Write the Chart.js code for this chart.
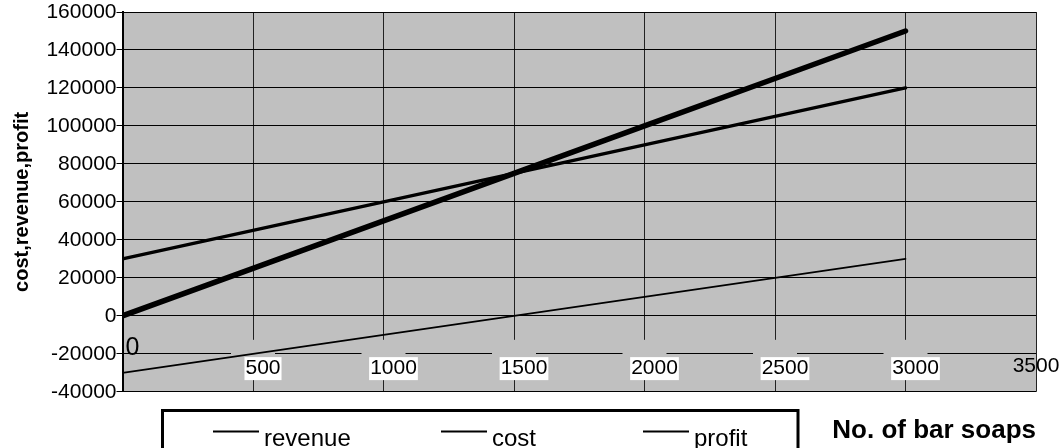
<!DOCTYPE html>
<html>
<head>
<meta charset="utf-8">
<title>Bar soaps: cost, revenue and profit</title>
<script src="https://cdn.jsdelivr.net/npm/chart.js@4.4.1/dist/chart.umd.min.js"></script>
<style>
  html, body { margin: 0; padding: 0; background: #fff; }
  #wrap { width: 1060px; height: 448px; position: relative; }
</style>
</head>
<body>
<div id="wrap"><canvas id="soapChart"></canvas></div>
<script>
// number of bar soaps and the three series at each count
const soaps = [0, 500, 1000, 1500, 2000, 2500, 3000];
const revenue = [0, 25000, 50000, 75000, 100000, 125000, 150000];
const cost = [30000, 45000, 60000, 75000, 90000, 105000, 120000];
const profit = [-30000, -20000, -10000, 0, 10000, 20000, 30000];

const seriesNames = ['revenue', 'cost', 'profit'];
const yTitle = 'cost,revenue,profit';
const xTitle = 'No. of bar soaps';

const xMin = 0, xMax = 3500, xStep = 500;
const yMin = -40000, yMax = 160000, yStep = 20000;
const xCross = -20000; // the horizontal axis sits on this value

const PLOT_GREY = '#c0c0c0';
Chart.defaults.font.family = '"Liberation Sans", Arial, sans-serif';
Chart.defaults.color = '#000';

const toPoints = ys => soaps.map((n, i) => ({ x: n, y: ys[i] }));
const tickValue = c => (c && c.tick ? c.tick.value : null);

// grey fill behind the plot
const plotBackground = {
    id: 'plotBackground',
    beforeDraw(chart, args, opts) {
        const { ctx, chartArea: a } = chart;
        ctx.save();
        ctx.fillStyle = opts.color;
        ctx.fillRect(a.left, a.top, a.right - a.left, a.bottom - a.top);
        ctx.restore();
    }
};

// boxed legend under the plot
const framedLegend = {
    id: 'framedLegend',
    afterDraw(chart, args, opts) {
        const ctx = chart.ctx;
        ctx.save();
        ctx.strokeStyle = '#000';
        ctx.lineWidth = 3;
        ctx.strokeRect(opts.left, opts.top, opts.right - opts.left, opts.bottom - opts.top);
        ctx.font = opts.font;
        ctx.fillStyle = '#000';
        ctx.textBaseline = 'alphabetic';
        ctx.lineWidth = 2;
        chart.data.datasets.forEach((ds, i) => {
            const x = opts.itemX[i];
            ctx.beginPath();
            ctx.moveTo(x, opts.lineY);
            ctx.lineTo(x + opts.sample, opts.lineY);
            ctx.stroke();
            ctx.fillText(ds.label, x + opts.sample + opts.gap, opts.textY);
        });
        ctx.restore();
    }
};

const lineStyle = { borderColor: '#000', pointRadius: 0, tension: 0, fill: false,
                    borderCapStyle: 'round', borderJoinStyle: 'round', xAxisID: 'x', yAxisID: 'y' };

new Chart(document.getElementById('soapChart'), {
    type: 'line',
    data: {
        datasets: [
            { ...lineStyle, label: seriesNames[0], data: toPoints(revenue), borderWidth: 5.5 },
            { ...lineStyle, label: seriesNames[1], data: toPoints(cost), borderWidth: 3.4 },
            { ...lineStyle, label: seriesNames[2], data: toPoints(profit), borderWidth: 1.7 }
        ]
    },
    options: {
        responsive: true,
        maintainAspectRatio: false,
        animation: false,
        layout: { padding: { top: 12, right: 24, bottom: 0, left: 0 } },
        scales: {
            x: {
                type: 'linear', axis: 'x', position: { y: xCross },
                min: xMin, max: xMax,
                grid: { color: '#222', lineWidth: 1, drawTicks: false },
                border: { display: false },
                ticks: {
                    stepSize: xStep, autoSkip: false, maxRotation: 0,
                    padding: -6, labelOffset: 10, z: 1, color: '#000',
                    callback: v => (v === xMax ? '' : String(v)),
                    // the zero label is larger and sits up on the axis line
                    font: c => (tickValue(c) === 0 ? { size: 25, lineHeight: 0 } : { size: 21, lineHeight: '41.6px' }),
                    showLabelBackdrop: c => tickValue(c) > 0 && tickValue(c) < xMax,
                    backdropColor: '#fff',
                    backdropPadding: { top: -9.3, bottom: -9.3, left: 1, right: 1 }
                }
            },
            // second pass over the same range: grey patches that break the grid
            // round each label, plus the last label at the right edge
            xGaps: {
                type: 'linear', axis: 'x', position: { y: xCross },
                min: xMin, max: xMax,
                grid: { display: false, drawTicks: false },
                border: { display: false },
                ticks: {
                    stepSize: xStep, autoSkip: false, maxRotation: 0,
                    padding: 0, color: '#000',
                    font: { size: 21, lineHeight: 1.2 },
                    callback: v => (v === xMax ? String(v) : ''),
                    showLabelBackdrop: c => tickValue(c) > 0 && tickValue(c) < xMax,
                    backdropColor: PLOT_GREY,
                    backdropPadding: { top: 14, bottom: 0.8, left: 22, right: 22 }
                }
            },
            y: {
                position: 'left',
                min: yMin, max: yMax,
                ticks: { stepSize: yStep, padding: 0, color: '#000',
                         font: { size: 21, lineHeight: 1.1 },
                         callback: v => String(v) },
                grid: { color: '#000', lineWidth: 1, tickLength: 6 },
                border: { color: '#000', width: 2 },
                title: { display: true, text: yTitle, color: '#000',
                         font: { size: 20, weight: 'bold' }, padding: { top: 10 } },
                afterFit(scale) { scale.width = 122.5; }
            }
        },
        plugins: {
            legend: { display: false },
            tooltip: { enabled: false },
            title: {
                display: true, text: xTitle, position: 'bottom', align: 'end', color: '#000',
                font: { size: 26, weight: 'bold' }, padding: { top: 23, bottom: 2 }
            },
            plotBackground: { color: PLOT_GREY },
            framedLegend: {
                left: 162.5, top: 410.5, right: 798, bottom: 470,
                itemX: [213, 441, 643], sample: 46, gap: 5,
                lineY: 431.5, textY: 446,
                font: '24px "Liberation Sans", Arial, sans-serif'
            }
        }
    },
    plugins: [plotBackground, framedLegend]
});
</script>
</body>
</html>
